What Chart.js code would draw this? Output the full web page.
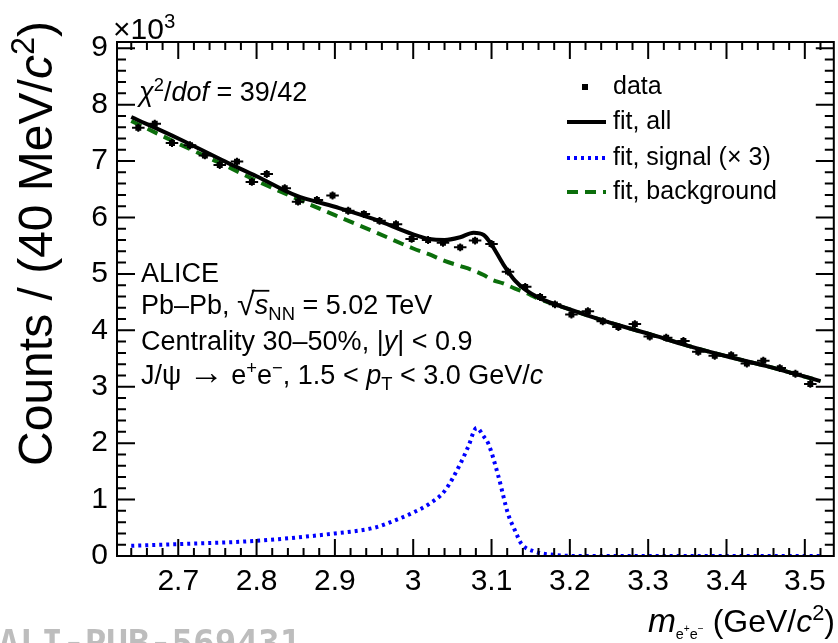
<!DOCTYPE html>
<html>
<head>
<meta charset="utf-8">
<script src="https://cdn.jsdelivr.net/npm/chart.js@4.4.1/dist/chart.umd.min.js"></script>
<style>
  body { margin: 0; background: #fff; }
  #wrap { width: 838px; height: 643px; position: relative; }
</style>
</head>
<body>
<div id="wrap"><canvas id="massChart"></canvas></div>
<script>
// ===== DATA (counts in units of 10^3) =====
const dataMass = [2.649, 2.670, 2.692, 2.715, 2.734, 2.753, 2.775, 2.794, 2.813, 2.836,
                  2.853, 2.877, 2.897, 2.917, 2.937, 2.957, 2.978, 2.998, 3.019, 3.038,
                  3.060, 3.079, 3.100, 3.121, 3.143, 3.162, 3.181, 3.202, 3.223, 3.242,
                  3.262, 3.283, 3.302, 3.323, 3.345, 3.364, 3.385, 3.406, 3.426, 3.447,
                  3.468, 3.488, 3.507];
const dataCounts = [7.59, 7.66, 7.32, 7.28, 7.10, 6.93, 6.99, 6.63, 6.77, 6.52,
                    6.28, 6.31, 6.39, 6.12, 6.06, 5.94, 5.88, 5.62, 5.60, 5.55,
                    5.47, 5.59, 5.53, 5.04, 4.77, 4.59, 4.46, 4.28, 4.34, 4.16,
                    4.06, 4.11, 3.89, 3.87, 3.81, 3.62, 3.55, 3.56, 3.41, 3.46,
                    3.33, 3.23, 3.05];
const errMass = 0.008;
const errCounts = 0.07;

const fitMass = [2.64, 2.70, 2.76, 2.80, 2.85, 2.90, 2.95, 3.00, 3.02, 3.04, 3.06, 3.077, 3.09,
                 3.10, 3.115, 3.13, 3.143, 3.16, 3.20, 3.25, 3.30, 3.35, 3.40, 3.45, 3.52];
const fitAll = [7.78, 7.40, 6.99, 6.73, 6.39, 6.19, 5.97, 5.70, 5.62, 5.60, 5.65, 5.73, 5.69,
                5.52, 5.17, 4.88, 4.72, 4.58, 4.37, 4.14, 3.94, 3.73, 3.54, 3.37, 3.10];
const fitBkg = [7.71, 7.31, 6.92, 6.65, 6.34, 6.04, 5.75, 5.45, 5.35, 5.23, 5.14, 5.06, 4.98,
                4.90, 4.83, 4.74, 4.67, 4.56, 4.37, 4.14, 3.94, 3.73, 3.54, 3.37, 3.10];

const sigMass = [2.64, 2.70, 2.80, 2.90, 2.95, 2.98, 3.00, 3.02, 3.04, 3.06, 3.07, 3.081,
                 3.09, 3.096, 3.109, 3.121, 3.13, 3.138, 3.155, 3.18, 3.22, 3.52];
const sigX3 = [0.18, 0.21, 0.27, 0.40, 0.50, 0.65, 0.77, 0.92, 1.15, 1.63, 1.93, 2.27,
               2.12, 1.99, 1.40, 0.75, 0.45, 0.22, 0.08, 0.02, 0, 0];

const xTickVals = [2.7, 2.8, 2.9, 3.0, 3.1, 3.2, 3.3, 3.4, 3.5];
const xTickLabels = ["2.7", "2.8", "2.9", "3", "3.1", "3.2", "3.3", "3.4", "3.5"];
const yTickVals = [0, 1, 2, 3, 4, 5, 6, 7, 8, 9];

const FAM = '"Liberation Sans", Arimo, Arial, sans-serif';
const GREEN = "#0b6e0b";
const BLUE = "#0000ff";

const pts = (xs, ys) => xs.map((x, i) => ({ x: x, y: ys[i] }));

// ===== rich text helper (italic / sup / sub) =====
function richText(ctx, parts, x, y, size, align) {
    const fontFor = p => {
        let s = size * (p.scale || 1);
        if (p.sup || p.sub) s = size * (p.scale || 0.68);
        if (p.ss) s = size * 0.32;
        return (p.i ? "italic " : "") + s.toFixed(1) + "px " + FAM;
    };
    let w = 0;
    parts.forEach(p => { ctx.font = fontFor(p); p.w = ctx.measureText(p.t).width; w += p.w; });
    let cx = align === "right" ? x - w : x;
    parts.forEach(p => {
        ctx.font = fontFor(p);
        let dy = p.dy !== undefined ? p.dy * size : 0;
        if (p.sup) dy = -size * 0.38;
        if (p.sub) dy = size * 0.22;
        if (p.ss) dy = size * 0.0;
        ctx.fillText(p.t, cx, y + dy);
        if (p.over) {
            ctx.save();
            ctx.lineWidth = 1.8;
            ctx.beginPath();
            ctx.moveTo(cx - 3, y - size * 0.86);
            ctx.lineTo(cx + p.w + 1, y - size * 0.86);
            ctx.stroke();
            ctx.restore();
        }
        cx += p.w;
    });
}

// ===== frame with inward ticks on all sides =====
const framePlugin = {
    id: "frame",
    afterDraw(chart) {
        const { ctx, chartArea: a, scales: { x, y } } = chart;
        ctx.save();
        ctx.strokeStyle = "#000";
        ctx.lineWidth = 2;
        ctx.strokeRect(a.left, a.top, a.right - a.left, a.bottom - a.top);
        ctx.beginPath();
        for (let i = 132; i <= 176; i++) {
            const px = x.getPixelForValue(i * 0.02);
            const len = i % 5 === 0 ? 17 : 8;
            ctx.moveTo(px, a.bottom); ctx.lineTo(px, a.bottom - len);
            ctx.moveTo(px, a.top); ctx.lineTo(px, a.top + len);
        }
        for (let i = 0; i <= 45; i++) {
            const py = y.getPixelForValue(i * 0.2);
            if (py < a.top) continue;
            const len = i % 5 === 0 ? 18 : 9;
            ctx.moveTo(a.left, py); ctx.lineTo(a.left + len, py);
            ctx.moveTo(a.right, py); ctx.lineTo(a.right - len, py);
        }
        ctx.stroke();
        ctx.restore();
    }
};

// ===== error bars on the data points =====
const errorPlugin = {
    id: "errors",
    afterDatasetsDraw(chart) {
        const { ctx, scales: { x, y } } = chart;
        ctx.save();
        ctx.strokeStyle = "#000";
        ctx.lineWidth = 2;
        ctx.beginPath();
        dataMass.forEach((m, i) => {
            const v = dataCounts[i];
            ctx.moveTo(x.getPixelForValue(m - errMass), y.getPixelForValue(v));
            ctx.lineTo(x.getPixelForValue(m + errMass), y.getPixelForValue(v));
            ctx.moveTo(x.getPixelForValue(m), y.getPixelForValue(v - errCounts));
            ctx.lineTo(x.getPixelForValue(m), y.getPixelForValue(v + errCounts));
        });
        ctx.stroke();
        ctx.restore();
    }
};

// ===== legend + texts =====
const textPlugin = {
    id: "texts",
    afterDraw(chart) {
        const ctx = chart.ctx;
        ctx.save();
        ctx.fillStyle = "#000";
        ctx.strokeStyle = "#000";
        ctx.textBaseline = "alphabetic";

        // legend
        const rows = [
            { label: "data", y: 87 },
            { label: "fit, all", y: 122, color: "#000", dash: [] },
            { label: "fit, signal (\u00d7 3)", y: 158, color: BLUE, dash: [3, 4] },
            { label: "fit, background", y: 192, color: GREEN, dash: [11, 7] }
        ];
        rows.forEach((r, i) => {
            if (i === 0) {
                ctx.fillRect(582, r.y - 3, 6, 6);
            } else {
                ctx.save();
                ctx.strokeStyle = r.color;
                ctx.lineWidth = 4;
                ctx.setLineDash(r.dash);
                ctx.beginPath();
                ctx.moveTo(567, r.y);
                ctx.lineTo(606, r.y);
                ctx.stroke();
                ctx.restore();
            }
            ctx.font = "25px " + FAM;
            ctx.textBaseline = "middle";
            ctx.fillText(r.label, 613, r.y);
            ctx.textBaseline = "alphabetic";
        });

        // chi2
        richText(ctx, [{ t: "\u03c7", i: 1 }, { t: "2", sup: 1 }, { t: "/" }, { t: "dof", i: 1 }, { t: " = 39/42" }],
            139, 101, 27);

        // ALICE block
        richText(ctx, [{ t: "ALICE" }], 141, 282, 27);
        richText(ctx, [{ t: "Pb\u2013Pb, " }, { t: "\u221a", scale: 1.2, dy: 0.04 }, { t: "s", i: 1, over: 1 }, { t: "NN", sub: 1 },
            { t: " = 5.02 TeV" }], 141, 314, 27);
        richText(ctx, [{ t: "Centrality 30\u201350%, |" }, { t: "y", i: 1 }, { t: "| < 0.9" }], 141, 350, 27);
        richText(ctx, [{ t: "J/\u03c8 " }, { t: "\u2192", scale: 1.3 }, { t: " e" }, { t: "+", sup: 1 }, { t: "e" }, { t: "\u2212", sup: 1 },
            { t: ", 1.5 < " }, { t: "p", i: 1 }, { t: "T", sub: 1 }, { t: " < 3.0 GeV/" }, { t: "c", i: 1 }],
            141, 384, 27);

        // x10^3
        richText(ctx, [{ t: "\u00d710" }, { t: "3", sup: 1 }], 113, 39, 30);

        // x title
        richText(ctx, [{ t: "m", i: 1, scale: 1.05 }, { t: "e", sub: 1, scale: 0.45 }, { t: "+", ss: 1 }, { t: "e", sub: 1, scale: 0.45 },
            { t: "\u2212", ss: 1 }, { t: " (GeV/" }, { t: "c", i: 1 }, { t: "2", sup: 1 }, { t: ")" }], 835, 632, 32, "right");

        // y title
        ctx.save();
        ctx.translate(52, 21);
        ctx.rotate(-Math.PI / 2);
        richText(ctx, [{ t: "Counts / (40 MeV/" }, { t: "c", i: 1 }, { t: "2", sup: 1 }, { t: ")" }], 0, 0, 48, "right");
        ctx.restore();

        // watermark
        ctx.fillStyle = "#bdbdbd";
        ctx.font = "bold 36px \"DejaVu Sans Mono\", \"Liberation Mono\", monospace";
        ctx.fillText("ALI-PUB-569431", -2, 655);

        ctx.restore();
    }
};

new Chart(document.getElementById("massChart"), {
    type: "line",
    data: {
        datasets: [
            {
                label: "data",
                data: pts(dataMass, dataCounts),
                showLine: false,
                pointStyle: "rect",
                pointRadius: 4.2,
                backgroundColor: "#000",
                borderColor: "#000",
                borderWidth: 0
            },
            {
                label: "fit, all",
                data: pts(fitMass, fitAll),
                borderColor: "#000",
                borderWidth: 4,
                pointRadius: 0,
                cubicInterpolationMode: "monotone"
            },
            {
                label: "fit, background",
                data: pts(fitMass, fitBkg),
                borderColor: GREEN,
                borderWidth: 4,
                borderDash: [11, 7],
                pointRadius: 0,
                cubicInterpolationMode: "monotone"
            },
            {
                label: "fit, signal (x 3)",
                data: pts(sigMass, sigX3),
                borderColor: BLUE,
                borderWidth: 4,
                borderDash: [3, 4],
                pointRadius: 0,
                cubicInterpolationMode: "monotone"
            }
        ]
    },
    options: {
        animation: false,
        responsive: true,
        maintainAspectRatio: false,
        layout: { padding: { top: 42, right: 4, left: 0, bottom: 0 } },
        plugins: {
            legend: { display: false },
            tooltip: { enabled: false }
        },
        scales: {
            x: {
                type: "linear",
                min: 2.6218,
                max: 3.537,
                grid: { display: false, drawTicks: false },
                border: { display: false },
                afterBuildTicks: s => { s.ticks = xTickVals.map(v => ({ value: v })); },
                afterFit: s => { s.height = 87; },
                ticks: {
                    autoSkip: false,
                    maxRotation: 0,
                    padding: 8,
                    color: "#000",
                    font: { family: FAM, size: 30 },
                    callback: (v, i) => xTickLabels[i]
                }
            },
            y: {
                type: "linear",
                min: 0,
                max: 9.11,
                grid: { display: false, drawTicks: false },
                border: { display: false },
                afterBuildTicks: s => { s.ticks = yTickVals.map(v => ({ value: v })); },
                afterFit: s => { s.width = 117; },
                ticks: {
                    padding: 9,
                    color: "#000",
                    font: { family: FAM, size: 30 },
                    callback: v => String(v)
                }
            }
        }
    },
    plugins: [errorPlugin, framePlugin, textPlugin]
});
</script>
</body>
</html>
